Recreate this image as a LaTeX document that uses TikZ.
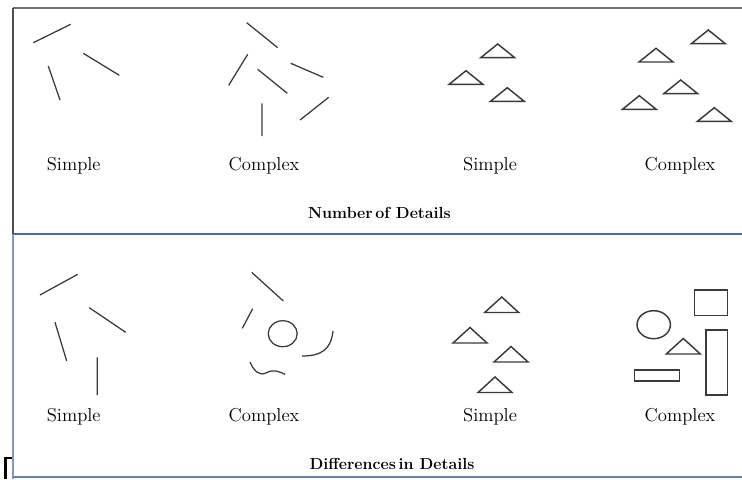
\documentclass[tikz,border=0pt]{standalone}
\definecolor{frameg}{HTML}{6E6E6E}
\definecolor{frameb}{HTML}{4F6B93}
\definecolor{framel}{HTML}{8A9AB3}
\definecolor{ink}{HTML}{3A3A3A}
\begin{document}
\begin{tikzpicture}[x=0.75pt,y=-0.75pt,
  stroke/.style={ink,line width=0.95pt},
  tri/.style={ink,line width=1.1pt,line join=miter},
  lbl/.style={font=\fontsize{14}{16}\selectfont,inner sep=0,anchor=base},
  ttl/.style={font=\fontsize{12}{14}\selectfont\bfseries,inner sep=0,anchor=base}]
\useasboundingbox (0,0) rectangle (742,479);
\draw[frameg,line width=1.5pt] (12.5,7.7) -- (742,7.7);
\draw[frameg!70!black,line width=1.1pt] (13,7.7) -- (13,234.3);
\draw[framel,line width=1pt] (13,234.3) -- (13,479);
\draw[frameb,line width=1.5pt] (13,234.3) -- (742,234.3);
\draw[frameb!85,line width=1.2pt] (13,476.7) -- (742,476.7);
\draw[black,line width=1.6pt] (5.5,479) -- (5.5,458) -- (12,458);
% number of details
\draw[stroke] (33.3,42.7) -- (70.7,24.3) (83.3,53.3) -- (119.3,75.3) (48.3,66) -- (60,100);
\draw[stroke] (246.7,22.7) -- (277.7,47.7) (247.7,54.3) -- (228.7,85.3)
  (290.7,63.3) -- (323.3,77.3) (257.7,69.3) -- (287.3,93.3)
  (262,103.3) -- (262,136) (300,120) -- (328.7,97.3);
\foreach \ax/\ay in {497.7/44,466/70.7,507.3/87.7,708.3/30,656/48.3,680.7/80,639.3/95.7,714.3/107.7}
  \draw[tri] (\ax,\ay) -- ++(-17,13.7) -- ++(34,0) -- cycle;
\node[lbl] (s-num) at (73.7,170.5) {Simple};
\node[lbl] (c-num) at (264,170.5) {Complex};
\node[lbl] (s-num2) at (490,170.5) {Simple};
\node[lbl] (c-num2) at (680,170.5) {Complex};
\node[ttl] (t-num) at (379.5,218.3) {Number\,of Details};
% differences in details
\draw[stroke] (40,295) -- (77.7,274.3) (89.3,307.7) -- (125.7,332.3)
  (55,322.3) -- (66.7,361) (97.3,357.3) -- (97.3,395);
\draw[stroke] (251.7,272.3) -- (283.3,301) (252.7,308.7) -- (242.3,328.3);
\draw[stroke] (282.7,333.7) ellipse [x radius=14.5,y radius=13];
\draw[stroke] (302,356) .. controls (322,356) and (331,349) .. (333,331);
\draw[stroke] (250,362) .. controls (254,371) and (259,376) .. (266,373)
  .. controls (273,369) and (278,371) .. (285,374.3);
\foreach \ax/\ay in {501.7/297,470/327.5,511/346.5,495/377,683.3/338.5}
  \draw[tri] (\ax,\ay) -- ++(-17,15.5) -- ++(34,0) -- cycle;
\draw[tri] (653.7,324.7) ellipse [x radius=16.7,y radius=14];
\draw[tri] (694.3,290) rectangle (727.7,315.7) (706,330) rectangle (727.7,395)
  (634.3,370) rectangle (679.3,381);
\node[lbl] (s-diff) at (73.7,421) {Simple};
\node[lbl] (c-diff) at (264,421) {Complex};
\node[lbl] (s-diff2) at (490,421) {Simple};
\node[lbl] (c-diff2) at (680,421) {Complex};
\node[ttl] (t-diff) at (392,469) {Differences\,in Details};
\end{tikzpicture}
\end{document}
